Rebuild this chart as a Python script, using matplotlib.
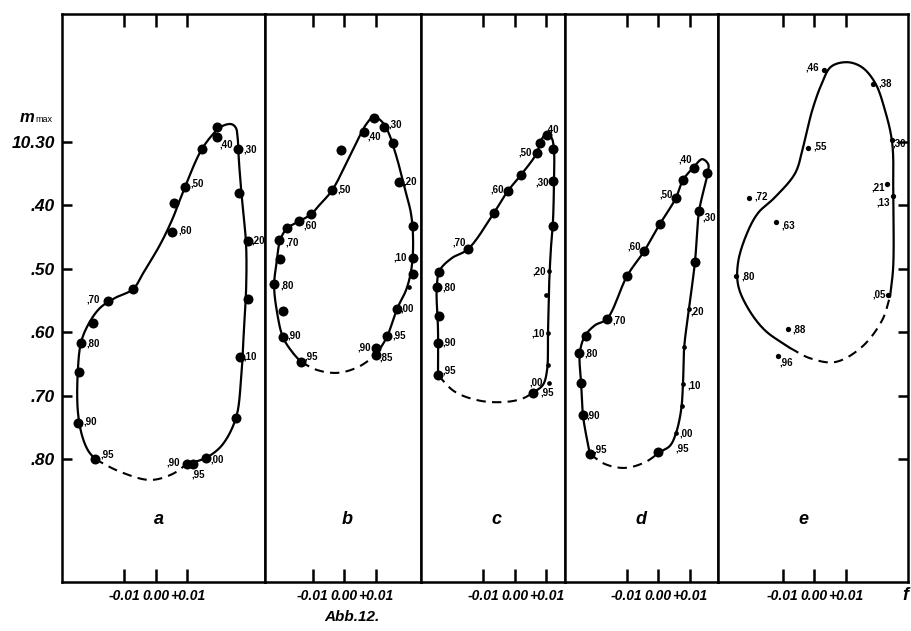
import numpy as np
import matplotlib
matplotlib.use("Agg")
import matplotlib.pyplot as plt
from matplotlib import font_manager


def pick_family(*names):
    for name in names:
        try:
            font_manager.findfont(font_manager.FontProperties(family=name),
                                  fallback_to_default=False)
            return name
        except Exception:
            pass
    return "DejaVu Sans"


SANS = pick_family("Liberation Sans", "DejaVu Sans")
plt.rcParams["font.family"] = [SANS, "DejaVu Sans"]

# ---------------------------------------------------------------- data
mag_ticks = [10.30, 10.40, 10.50, 10.60, 10.70, 10.80]
mag_tick_labels = ["10.30", ".40", ".50", ".60", ".70", ".80"]
dm_ticks = [-0.01, 0.00, 0.01]
dm_tick_labels = ["-0.01", "0.00", "+0.01"]
panel_names = ["a", "b", "c", "d", "e"]

# panel a
a_dm = [0.0194, 0.0194, 0.0260, 0.0146, 0.0092, 0.0057, 0.0051, 0.0263, 0.0292, 0.0292,
        -0.0073, -0.0152, -0.0200, -0.0238, -0.0244, -0.0248, -0.0194, 0.0098, 0.0117,
        0.0159, 0.0254, 0.0267]
a_mag = [10.276, 10.292, 10.311, 10.311, 10.371, 10.396, 10.442, 10.380, 10.456, 10.548,
         10.532, 10.551, 10.585, 10.617, 10.663, 10.743, 10.800, 10.808, 10.808, 10.798,
         10.735, 10.639]
a_phase = ["", ",40", ",30", "", ",50", "", ",60", "", ",20", "", "", ",70", "", ",80", "",
           ",90", ",95", ",90", ",95", ",00", "", ",10"]
a_loop_dm = [0.0098, 0.0159, 0.0210, 0.0254, 0.0270, 0.0279, 0.0286, 0.0286, 0.0273, 0.0263,
             0.0260, 0.0254, 0.0241, 0.0219, 0.0194, 0.0146, 0.0092, 0.0051, 0.0013, -0.0035,
             -0.0073, -0.0130, -0.0178, -0.0216, -0.0238, -0.0248, -0.0248, -0.0235, -0.0216,
             -0.0194]
a_loop_mag = [10.808, 10.798, 10.778, 10.735, 10.675, 10.597, 10.533, 10.462, 10.391, 10.328,
              10.297, 10.278, 10.272, 10.273, 10.281, 10.311, 10.371, 10.423, 10.462, 10.502,
              10.532, 10.546, 10.562, 10.589, 10.617, 10.663, 10.723, 10.762, 10.786, 10.800]
a_gap_dm = [-0.0194, -0.0114, -0.0019, 0.0051, 0.0098]
a_gap_mag = [10.800, 10.820, 10.833, 10.824, 10.808]

# panel b
b_dm = [0.0095, 0.0063, 0.0127, 0.0156, -0.0010, 0.0175, -0.0038, -0.0105, -0.0143, -0.0181,
        -0.0206, -0.0203, 0.0219, 0.0219, 0.0219, 0.0206, -0.0222, -0.0194, 0.0168, -0.0194,
        0.0137, -0.0137, 0.0102, 0.0102]
b_mag = [10.262, 10.284, 10.276, 10.302, 10.313, 10.363, 10.376, 10.414, 10.425, 10.436,
         10.455, 10.485, 10.432, 10.483, 10.508, 10.529, 10.524, 10.567, 10.563, 10.608,
         10.606, 10.647, 10.625, 10.636]
b_phase = ["", ",40", ",30", "", "", ",20", ",50", "", ",60", "", ",70", "", "", ",10", "", "",
           ",80", "", ",00", ",90", ",95", ",95", ",90", ",85"]
b_loop_dm = [0.0102, 0.0137, 0.0168, 0.0197, 0.0213, 0.0219, 0.0213, 0.0194, 0.0165, 0.0137,
             0.0114, 0.0092, 0.0070, 0.0035, -0.0038, -0.0076, -0.0105, -0.0143, -0.0181,
             -0.0203, -0.0213, -0.0222, -0.0213, -0.0194, -0.0165, -0.0137]
b_loop_mag = [10.636, 10.606, 10.563, 10.533, 10.502, 10.462, 10.415, 10.376, 10.321, 10.281,
              10.265, 10.261, 10.272, 10.305, 10.376, 10.398, 10.414, 10.425, 10.436, 10.455,
              10.486, 10.526, 10.568, 10.608, 10.631, 10.647]
b_gap_dm = [-0.0137, -0.0083, -0.0019, 0.0044, 0.0102]
b_gap_mag = [10.647, 10.660, 10.664, 10.655, 10.636]

# panel c
c_dm = [0.0102, 0.0121, 0.0079, 0.0070, 0.0019, -0.0022, -0.0067, -0.0149, -0.0241, -0.0248,
        -0.0241, -0.0244, -0.0244, 0.0121, 0.0121, 0.0108, 0.0098, 0.0105, 0.0105, 0.0108,
        0.0057]
c_mag = [10.289, 10.311, 10.302, 10.317, 10.352, 10.377, 10.412, 10.469, 10.505, 10.529,
         10.574, 10.617, 10.668, 10.362, 10.432, 10.503, 10.541, 10.601, 10.652, 10.680,
         10.696]
c_phase = [",40", "", "", ",50", "", ",60", "", ",70", "", ",80", "", ",90", ",95", ",30", "",
           ",20", "", ",10", "", ",95", ",00"]
c_loop_dm = [0.0057, 0.0089, 0.0102, 0.0105, 0.0108, 0.0114, 0.0121, 0.0124, 0.0124, 0.0117,
             0.0102, 0.0083, 0.0070, 0.0019, -0.0022, -0.0067, -0.0149, -0.0200, -0.0238,
             -0.0248, -0.0244, -0.0244]
c_loop_mag = [10.696, 10.683, 10.660, 10.601, 10.533, 10.470, 10.423, 10.360, 10.313, 10.294,
              10.287, 10.297, 10.317, 10.352, 10.377, 10.412, 10.469, 10.483, 10.502, 10.529,
              10.597, 10.668]
c_gap_dm = [-0.0244, -0.0190, -0.0111, -0.0032, 0.0022, 0.0057]
c_gap_mag = [10.668, 10.694, 10.708, 10.710, 10.705, 10.696]

# panel d
d_dm = [0.0114, 0.0156, 0.0079, 0.0057, 0.0130, 0.0006, -0.0044, -0.0098, 0.0117, -0.0162,
        0.0098, -0.0229, -0.0251, 0.0083, -0.0244, 0.0079, 0.0076, -0.0238, 0.0057, 0.0000,
        -0.0216]
d_mag = [10.341, 10.349, 10.360, 10.388, 10.409, 10.429, 10.472, 10.511, 10.489, 10.579,
         10.563, 10.606, 10.633, 10.623, 10.680, 10.682, 10.716, 10.731, 10.759, 10.789,
         10.792]
d_phase = [",40", "", "", ",50", ",30", "", ",60", "", "", ",70", ",20", "", ",80", "", "",
           ",10", "", ",90", ",00", ",95", ",95"]
d_loop_dm = [0.0006, 0.0038, 0.0057, 0.0073, 0.0079, 0.0083, 0.0098, 0.0117, 0.0130, 0.0156,
             0.0159, 0.0140, 0.0114, 0.0079, 0.0057, 0.0006, -0.0044, -0.0098, -0.0162,
             -0.0200, -0.0232, -0.0248, -0.0244, -0.0238, -0.0225, -0.0216]
d_loop_mag = [10.789, 10.779, 10.759, 10.723, 10.682, 10.623, 10.563, 10.489, 10.409, 10.352,
              10.335, 10.327, 10.339, 10.360, 10.388, 10.429, 10.472, 10.511, 10.579, 10.589,
              10.606, 10.633, 10.680, 10.731, 10.770, 10.792]
d_gap_dm = [-0.0216, -0.0168, -0.0105, -0.0041, 0.0006]
d_gap_mag = [10.792, 10.808, 10.814, 10.805, 10.789]

# panel e
e_dm = [0.0032, 0.0187, -0.0019, 0.0248, 0.0232, 0.0251, -0.0206, -0.0121, -0.0248, 0.0235,
        -0.0083, -0.0114]
e_mag = [10.186, 10.208, 10.309, 10.297, 10.366, 10.385, 10.388, 10.426, 10.511, 10.541,
         10.595, 10.638]
e_phase = [",46", ",38", ",55", ",30", ",21", ",13", ",72", ",63", ",80", ",05", ",88", ",96"]
e_loop_dm = [0.0241, 0.0251, 0.0251, 0.0248, 0.0225, 0.0194, 0.0152, 0.0105, 0.0054, 0.0025,
             -0.0006, -0.0035, -0.0060, -0.0124, -0.0178, -0.0213, -0.0241, -0.0241, -0.0210,
             -0.0156, -0.0076]
e_loop_mag = [10.544, 10.497, 10.385, 10.302, 10.250, 10.207, 10.182, 10.174, 10.181, 10.207,
              10.250, 10.308, 10.349, 10.387, 10.412, 10.444, 10.489, 10.526, 10.562, 10.597,
              10.625]
e_gap_dm = [-0.0076, -0.0013, 0.0067, 0.0152, 0.0216, 0.0241]
e_gap_mag = [10.625, 10.641, 10.647, 10.623, 10.581, 10.544]

# ---------------------------------------------------------------- styling / layout
BIG, SMALL = 7.2, 3.4
a_size = [BIG] * len(a_dm)
b_size = [SMALL if i == 15 else BIG for i in range(len(b_dm))]
c_size = [SMALL if i in (15, 16, 17, 18, 19) else BIG for i in range(len(c_dm))]
d_size = [SMALL if i in (10, 13, 15, 16, 18) else BIG for i in range(len(d_dm))]
e_size = [3.8] * len(e_dm)

# label offsets (pixels, right / down) from each dot
a_off = [(0, 0), (9, 8), (12, 0), (0, 0), (12, -4), (0, 0), (13, -2), (0, 0), (10, 0), (0, 0),
         (0, 0), (-15, -2), (0, 0), (12, 0), (0, 0), (12, -1), (12, -5), (-14, -2), (5, 10),
         (11, 2), (0, 0), (10, 0)]
b_off = [(0, 0), (10, 5), (11, -2), (0, 0), (0, 0), (11, 0), (12, -1), (0, 0), (11, 4), (0, 0),
         (13, 2), (0, 0), (0, 0), (-13, -1), (0, 0), (0, 0), (13, 1), (0, 0), (10, 0), (11, -2),
         (12, -1), (10, -6), (-12, -1), (10, 2)]
c_off = [(5, -6), (0, 0), (0, 0), (-12, 0), (0, 0), (-11, -1), (0, 0), (-9, -7), (0, 0),
         (12, 0), (0, 0), (11, -1), (11, -5), (-11, 1), (0, 0), (-10, 1), (0, 0), (-10, 1),
         (0, 0), (-2, 10), (3, -11)]
d_off = [(-9, -9), (0, 0), (0, 0), (-10, -3), (10, 6), (0, 0), (-10, -5), (0, 0), (0, 0),
         (12, 2), (8, 3), (0, 0), (12, 0), (0, 0), (0, 0), (11, 1), (0, 0), (10, 0), (10, 0),
         (24, -4), (10, -4)]
e_off = [(-12, -2), (12, 0), (12, -1), (7, 3), (-9, 4), (-10, 7), (12, -1), (12, 4), (12, 1),
         (-9, 0), (11, 0), (8, 6)]

panels = [
    (a_dm, a_mag, a_phase, a_size, a_off, a_loop_dm, a_loop_mag, a_gap_dm, a_gap_mag),
    (b_dm, b_mag, b_phase, b_size, b_off, b_loop_dm, b_loop_mag, b_gap_dm, b_gap_mag),
    (c_dm, c_mag, c_phase, c_size, c_off, c_loop_dm, c_loop_mag, c_gap_dm, c_gap_mag),
    (d_dm, d_mag, d_phase, d_size, d_off, d_loop_dm, d_loop_mag, d_gap_dm, d_gap_mag),
    (e_dm, e_mag, e_phase, e_size, e_off, e_loop_dm, e_loop_mag, e_gap_dm, e_gap_mag),
]

W, H, DPI = 911, 631, 100
edges_px = [62, 265, 421, 565, 718, 908]
xlims = [(-0.0298, 0.0346), (-0.0251, 0.0244), (-0.0298, 0.0159),
         (-0.0295, 0.0190), (-0.0305, 0.0298)]
letter_x = [0.001, 0.001, -0.006, -0.0054, -0.0035]
top_px, bottom_px = 14, 582
ylim = (10.994, 10.098)
ASPECT = (3150.0, 634.0)   # screen pixels per data unit (x, y) for curve smoothing
PX = 72.0 / DPI


def smooth(xs, ys, n=24):
    """Centripetal Catmull-Rom curve through the given knots."""
    P = np.column_stack([np.asarray(xs) * ASPECT[0], np.asarray(ys) * ASPECT[1]])
    P = np.vstack([2 * P[0] - P[1], P, 2 * P[-1] - P[-2]])
    out = []
    for i in range(1, len(P) - 2):
        p0, p1, p2, p3 = P[i - 1], P[i], P[i + 1], P[i + 2]
        t0 = 0.0
        t1 = t0 + max(np.linalg.norm(p1 - p0), 1e-6) ** 0.5
        t2 = t1 + max(np.linalg.norm(p2 - p1), 1e-6) ** 0.5
        t3 = t2 + max(np.linalg.norm(p3 - p2), 1e-6) ** 0.5
        t = np.linspace(t1, t2, n)[:, None]
        A1 = (t1 - t) / (t1 - t0) * p0 + (t - t0) / (t1 - t0) * p1
        A2 = (t2 - t) / (t2 - t1) * p1 + (t - t1) / (t2 - t1) * p2
        A3 = (t3 - t) / (t3 - t2) * p2 + (t - t2) / (t3 - t2) * p3
        B1 = (t2 - t) / (t2 - t0) * A1 + (t - t0) / (t2 - t0) * A2
        B2 = (t3 - t) / (t3 - t1) * A2 + (t - t1) / (t3 - t1) * A3
        C = (t2 - t) / (t2 - t1) * B1 + (t - t1) / (t2 - t1) * B2
        out.append(C if i == 1 else C[1:])
    C = np.vstack(out)
    return C[:, 0] / ASPECT[0], C[:, 1] / ASPECT[1]


fig = plt.figure(figsize=(W / DPI, H / DPI), dpi=DPI)
fig.patch.set_facecolor("white")

label_font = dict(fontsize=12.5, fontweight="bold", fontstyle="italic")
tick_font = dict(fontsize=10, fontweight="bold", fontstyle="italic")

for k, (dm, mag, phase, size, off, ldm, lmag, gdm, gmag) in enumerate(panels):
    left = edges_px[k] / W
    width = (edges_px[k + 1] - edges_px[k]) / W
    ax = fig.add_axes([left, 1 - bottom_px / H, width, (bottom_px - top_px) / H])
    ax.set_xlim(*xlims[k])
    ax.set_ylim(*ylim)
    for sp in ax.spines.values():
        sp.set_linewidth(1.8)

    # mean light-curve loop: solid part and dashed (uncovered) part
    sx, sy = smooth(ldm, lmag)
    ax.plot(sx, sy, color="black", lw=1.6, solid_capstyle="round")
    gx, gy = smooth(gdm, gmag)
    ax.plot(gx, gy, color="black", lw=1.5, linestyle=(0, (4.5, 3.0)))

    # observed normal points
    for x, y, s in zip(dm, mag, size):
        ax.plot([x], [y], "o", color="black", markersize=s, markeredgewidth=0)

    # phase labels
    for x, y, txt, (ox, oy) in zip(dm, mag, phase, off):
        if txt:
            ax.annotate(txt, xy=(x, y), xytext=(ox * PX, -oy * PX),
                        textcoords="offset points", ha="center", va="center",
                        fontsize=7, fontweight="bold")

    ax.text(letter_x[k], 10.896, panel_names[k], ha="center", va="center",
            fontsize=13, fontweight="bold", fontstyle="italic")

    ax.set_xticks(dm_ticks)
    ax.set_xticklabels(dm_tick_labels, **tick_font)
    ax.tick_params(axis="x", direction="in", top=True, bottom=True, length=9.5,
                   width=1.8, pad=5)

    if k == 0:
        ax.set_yticks(mag_ticks)
        ax.set_yticklabels(mag_tick_labels, **label_font)
        ax.tick_params(axis="y", direction="in", left=True, right=False, length=7.5,
                       width=1.8, pad=5)
    elif k == len(panels) - 1:
        ax.set_yticks(mag_ticks)
        ax.tick_params(axis="y", direction="in", left=False, right=True, labelleft=False,
                       labelright=False, length=7.5, width=1.8)
    else:
        ax.set_yticks([])

fig.text(20 / W, 1 - 117 / H, "m", fontsize=12, fontweight="bold", fontstyle="italic",
         ha="left", va="center")
fig.text(35 / W, 1 - 120 / H, "max", fontsize=6.5, ha="left", va="center")
fig.text(352 / W, 1 - 617 / H, "Abb.12.", fontsize=11, fontweight="bold",
         fontstyle="italic", ha="center", va="center")
fig.text(905 / W, 1 - 596 / H, "f", fontsize=13, fontweight="bold", fontstyle="italic",
         ha="center", va="center")

fig.savefig("out.png", dpi=DPI, facecolor="white")
